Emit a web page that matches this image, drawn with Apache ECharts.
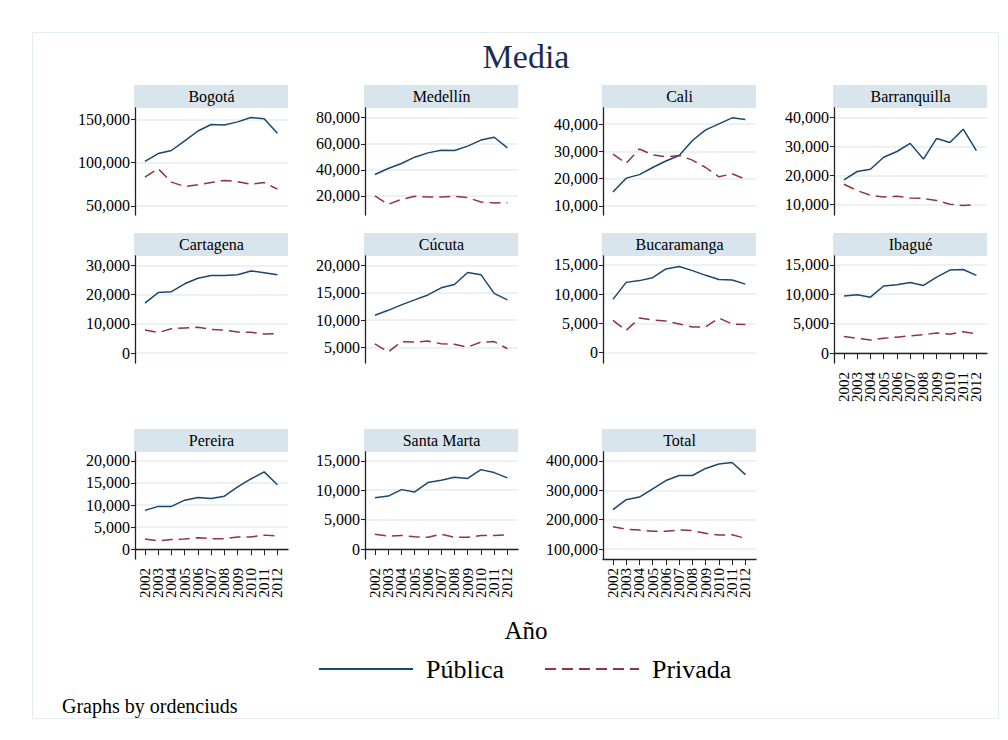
<!DOCTYPE html>
<html>
<head>
<meta charset="utf-8">
<script src="https://cdn.jsdelivr.net/npm/echarts@6/dist/echarts.min.js"></script>
<style>
html,body{margin:0;padding:0;background:#fff;}
#chart{width:1008px;height:740px;}
</style>
</head>
<body>
<div id="chart"></div>
<script>
// ---------- DATA ----------
const years = [2002,2003,2004,2005,2006,2007,2008,2009,2010,2011,2012];
const cityNames = ['Bogotá','Medellín','Cali','Barranquilla','Cartagena','Cúcuta','Bucaramanga','Ibagué','Pereira','Santa Marta','Total'];
const seriesNames = ['Pública','Privada'];

const publicaBogota = [101500,110500,114000,125000,136500,144000,143500,147000,152000,150500,134000];
const privadaBogota = [83300,93000,77500,72500,74500,77000,79500,78000,75000,77000,69500];
const yTicksBogota = [50000,100000,150000];
const yRangeBogota = [39600,163000];

const publicaMedellin = [36400,41000,44900,49700,53000,55000,54800,58200,62800,65000,56900];
const privadaMedellin = [20000,13600,17400,19700,19200,19200,19700,18700,15400,14600,14900];
const yTicksMedellin = [20000,40000,60000,80000];
const yRangeMedellin = [5400,87400];

const publicaCali = [15100,20200,21500,24100,26500,28500,34000,37900,40100,42300,41700];
const privadaCali = [29000,25600,30900,28700,28000,28500,26800,24100,20700,21800,19800];
const yTicksCali = [10000,20000,30000,40000];
const yRangeCali = [6700,45900];

const publicaBarranquilla = [18500,21400,22200,26300,28300,31100,25700,32800,31400,36000,28600];
const privadaBarranquilla = [17000,14800,13200,12600,12900,12300,12100,11400,10100,9700,9900];
const yTicksBarranquilla = [10000,20000,30000,40000];
const yRangeBarranquilla = [6400,43300];

const publicaCartagena = [17100,20700,21000,23700,25600,26500,26500,26800,28100,27500,26800];
const privadaCartagena = [7900,7000,8300,8600,8800,8100,7900,7200,7100,6500,6700];
const yTicksCartagena = [0,10000,20000,30000];
const yRangeCartagena = [-3400,33200];

const publicaCucuta = [10900,11800,12800,13700,14600,15900,16500,18700,18300,14900,13700];
const privadaCucuta = [5700,4200,6100,6000,6200,5700,5600,5100,6000,6100,4800];
const yTicksCucuta = [5000,10000,15000,20000];
const yRangeCucuta = [2200,21700];

const publicaBucaramanga = [9100,12000,12300,12800,14300,14700,14000,13200,12500,12400,11700];
const privadaBucaramanga = [5500,3800,5900,5600,5400,4900,4400,4400,5900,4900,4800];
const yTicksBucaramanga = [0,5000,10000,15000];
const yRangeBucaramanga = [-1760,16500];

const publicaIbague = [9700,9900,9500,11400,11600,12000,11500,12900,14100,14200,13200];
const privadaIbague = [2800,2500,2200,2500,2700,2900,3100,3400,3200,3600,3300];
const yTicksIbague = [0,5000,10000,15000];
const yRangeIbague = [-1700,16500];

const publicaPereira = [8800,9700,9700,11100,11700,11500,12000,14100,15900,17500,14600];
const privadaPereira = [2300,1900,2200,2300,2600,2400,2400,2800,2800,3200,3000];
const yTicksPereira = [0,5000,10000,15000,20000];
const yRangePereira = [-2200,22000];

const publicaSantaMarta = [8700,9000,10100,9700,11300,11700,12200,12000,13500,13000,12100];
const privadaSantaMarta = [2500,2200,2300,2100,2000,2500,2000,2000,2300,2300,2400];
const yTicksSantaMarta = [0,5000,10000,15000];
const yRangeSantaMarta = [-1700,16500];

const publicaTotal = [234000,268000,277000,305000,333000,350000,350000,374000,389000,394000,353000];
const privadaTotal = [176000,168000,165000,161000,161000,165000,163000,154000,148000,149000,137000];
const yTicksTotal = [100000,200000,300000,400000];
const yRangeTotal = [66800,429800];

// ---------- LAYOUT ----------
const colLeft = [135,365,603,834];
const rowTop = [108,256,452];
const plotW = 153, plotH = 107, stripH = 23;
const xRange = [2001.25, 2012.8];
const FONT = '"Liberation Serif","Times New Roman",serif';
const colPub = '#1a476f', colPri = '#90353b';

const panels = [
  [publicaBogota, privadaBogota, yTicksBogota, yRangeBogota],
  [publicaMedellin, privadaMedellin, yTicksMedellin, yRangeMedellin],
  [publicaCali, privadaCali, yTicksCali, yRangeCali],
  [publicaBarranquilla, privadaBarranquilla, yTicksBarranquilla, yRangeBarranquilla],
  [publicaCartagena, privadaCartagena, yTicksCartagena, yRangeCartagena],
  [publicaCucuta, privadaCucuta, yTicksCucuta, yRangeCucuta],
  [publicaBucaramanga, privadaBucaramanga, yTicksBucaramanga, yRangeBucaramanga],
  [publicaIbague, privadaIbague, yTicksIbague, yRangeIbague],
  [publicaPereira, privadaPereira, yTicksPereira, yRangePereira],
  [publicaSantaMarta, privadaSantaMarta, yTicksSantaMarta, yRangeSantaMarta],
  [publicaTotal, privadaTotal, yTicksTotal, yRangeTotal]
];
const bottomPanels = [7,8,9,10];

const fmt = v => String(v).replace(/\B(?=(\d{3})+(?!\d))/g, ',');
// blank labels at both axis ends so that the library keeps every year label
const xLabelValues = [xRange[0]].concat(years, [xRange[1]]);

const grids = [], xAxes = [], yAxes = [], series = [], graphics = [];

graphics.push({type:'rect', shape:{x:32.5,y:32.5,width:966,height:686}, style:{fill:'none', stroke:'#e3ecef', lineWidth:1}, silent:true});

panels.forEach((p, i) => {
  const r = Math.floor(i/4), c = i%4;
  const left = colLeft[c], top = rowTop[r];
  const showX = bottomPanels.indexOf(i) >= 0;
  grids.push({left:left, top:top, width:plotW, height:plotH, containLabel:false});
  xAxes.push({
    type:'value', gridIndex:i, min:xRange[0], max:xRange[1],
    axisLine:{show:showX, lineStyle:{color:'#222', width:1.3}},
    axisTick:{show:showX, length:6, customValues:years, lineStyle:{color:'#222', width:1}},
    axisLabel:{show:showX, customValues:xLabelValues, rotate:90, margin:9, fontSize:15, color:'#000', fontFamily:FONT,
      showMinLabel:true, showMaxLabel:true, hideOverlap:false,
      formatter:v=>(years.indexOf(v) >= 0 ? String(v) : '')},
    splitLine:{show:false}
  });
  yAxes.push({
    type:'value', gridIndex:i, min:p[3][0], max:p[3][1],
    axisLine:{show:true, lineStyle:{color:'#222', width:1.3}},
    axisTick:{show:true, length:4, customValues:p[2], lineStyle:{color:'#222', width:1}},
    axisLabel:{show:true, customValues:p[2], margin:5, fontSize:16, color:'#000', fontFamily:FONT,
      showMinLabel:true, showMaxLabel:true, formatter:v=>fmt(v)},
    splitLine:{show:true, lineStyle:{color:'#e6eef1', width:1.5}}
  });
  series.push({
    name:seriesNames[0], type:'line', xAxisIndex:i, yAxisIndex:i,
    data: years.map((y,k)=>[y,p[0][k]]),
    showSymbol:false, symbol:'none', silent:true,
    lineStyle:{color:colPub, width:1.5}, itemStyle:{color:colPub}
  });
  series.push({
    name:seriesNames[1], type:'line', xAxisIndex:i, yAxisIndex:i,
    data: years.map((y,k)=>[y,p[1][k]]),
    showSymbol:false, symbol:'none', silent:true,
    lineStyle:{color:colPri, width:1.5, type:[11,6]}, itemStyle:{color:colPri}
  });
  graphics.push({type:'rect', shape:{x:left-1, y:top-stripH, width:plotW+1, height:stripH}, style:{fill:'#d9e5ec'}, silent:true});
  graphics.push({type:'text', x:left+plotW/2, y:top-stripH/2, style:{text:cityNames[i], fill:'#000', font:'16px '+FONT, textAlign:'center', textVerticalAlign:'middle'}, silent:true});
});

const chart = echarts.init(document.getElementById('chart'), null, {renderer:'svg', width:1008, height:740});
chart.setOption({
  animation:false,
  backgroundColor:'#ffffff',
  title:[
    {text:'Media', left:521, top:34, textAlign:'center', textStyle:{fontSize:34, fontWeight:'normal', color:'#1a2b57', fontFamily:FONT}},
    {text:'Año', left:521, top:613, textAlign:'center', textStyle:{fontSize:25, fontWeight:'normal', color:'#000', fontFamily:FONT}},
    {text:'Graphs by ordenciuds', left:57, top:691, textStyle:{fontSize:20, fontWeight:'normal', color:'#000', fontFamily:FONT}}
  ],
  legend:{
    data:seriesNames, left:313, top:651, itemWidth:94, itemHeight:14, itemGap:40,
    itemStyle:{opacity:0},
    textStyle:{fontSize:26, color:'#000', fontFamily:FONT, padding:[0,0,0,8]},
    selectedMode:false
  },
  grid:grids, xAxis:xAxes, yAxis:yAxes, series:series,
  graphic:graphics
});
</script>
</body>
</html>
